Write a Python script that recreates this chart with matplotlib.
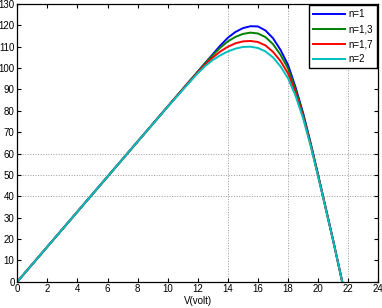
import numpy as np
import matplotlib.pyplot as plt

plt.rcParams['font.family'] = ['Liberation Sans', 'DejaVu Sans']

# voltage samples (V) and power curves (W)
volts = [0, 2, 4, 6, 8, 10, 11, 12, 12.5, 13, 13.5, 14, 14.5, 15, 15.5, 16,
         16.5, 17, 17.5, 18, 18.5, 19, 19.5, 20, 20.5, 21, 21.6]
p_n1 = [0, 16.4, 32.8, 49.2, 65.6, 82, 90.2, 98.4, 102.5, 106.5, 110.6, 114.2,
        116.9, 118.7, 119.6, 119.5, 117.6, 114, 108.5, 101.5, 91, 79, 65, 50,
        34.7, 19.3, 0]
p_n13 = [0, 16.4, 32.8, 49.2, 65.6, 82, 90.2, 98.3, 102.3, 106.1, 109.6, 112.5,
         114.6, 116, 116.6, 116.2, 114.5, 111.2, 106.2, 99.8, 90, 78.3, 64.6,
         49.8, 34.6, 19.3, 0]
p_n17 = [0, 16.4, 32.8, 49.2, 65.6, 82, 90.1, 98, 101.7, 105, 107.8, 110,
         111.6, 112.5, 112.7, 112.2, 110.6, 107.6, 103.3, 97.5, 88.5, 77.4,
         64.1, 49.5, 34.4, 19.2, 0]
p_n2 = [0, 16.4, 32.8, 49.2, 65.6, 81.9, 89.8, 97.6, 101, 103.8, 106, 107.8,
        109.1, 109.9, 110, 109.4, 107.8, 105, 100.8, 95.2, 87, 76.5, 63.6,
        49.2, 34.2, 19.1, 0]
labels = ['n=1', 'n=1,3', 'n=1,7', 'n=2']
colors = ['#0000ff', '#008000', '#ff0000', '#00bfbf']

fig = plt.figure(figsize=(3.82, 3.08), dpi=100)
ax = fig.add_axes([0.0453, 0.0854, 0.9450, 0.9016])

for p, lab, c in zip([p_n1, p_n13, p_n17, p_n2], labels, colors):
    ax.plot(volts, p, color=c, lw=1.4, label=lab)

# partial grid as it shows in the reference
for gx in [14, 18, 22]:
    ax.axvline(gx, color='#999999', ls=':', lw=0.7, zorder=0)
for gy in [40, 50, 60]:
    ax.axhline(gy, color='#999999', ls=':', lw=0.7, zorder=0)

ax.set_xlim(0, 24)
ax.set_ylim(0, 130)
ax.set_xticks(np.arange(0, 25, 2))
ax.set_yticks(np.arange(0, 131, 10))
ax.tick_params(direction='in', length=3, width=0.8, labelsize=7,
               top=True, right=True, pad=2)
for s in ax.spines.values():
    s.set_linewidth(0.9)
ax.set_xlabel('V(volt)', fontsize=7, labelpad=1)

leg = ax.legend(loc='upper right', fontsize=7, handlelength=3.3,
                borderaxespad=0.1, fancybox=False, framealpha=1,
                edgecolor='black', labelspacing=0.5, borderpad=0.45,
                handletextpad=0.35)
leg.get_frame().set_linewidth(1.0)

fig.savefig('out.png', dpi=100)
